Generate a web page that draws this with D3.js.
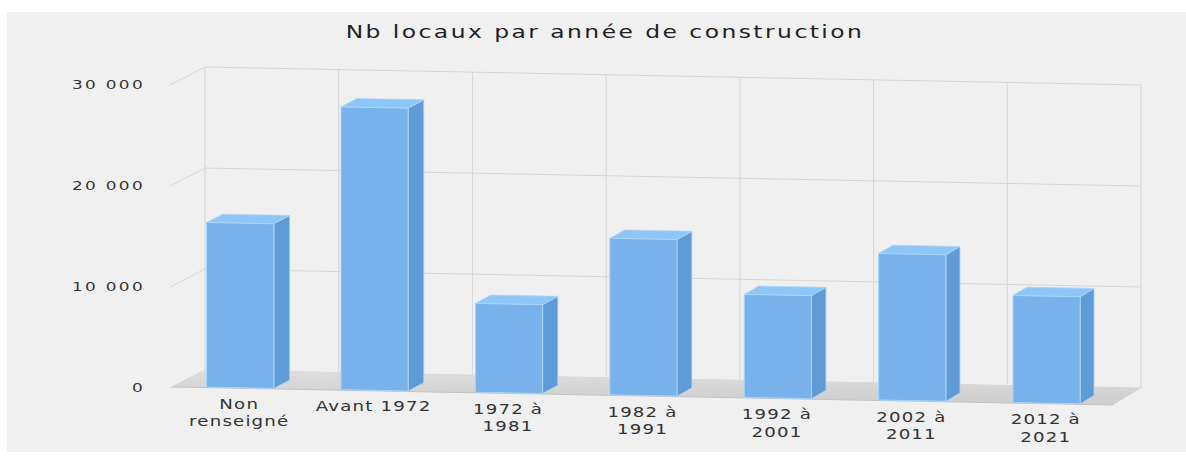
<!DOCTYPE html>
<html><head><meta charset="utf-8">
<script src="https://cdn.jsdelivr.net/npm/d3@7/dist/d3.min.js"></script>
<style>body{margin:0;background:#fff} svg{display:block}</style>
</head><body><svg id="c" width="1186" height="457"></svg>
<script>
const categories = ["Non renseigné","Avant 1972","1972 à 1981","1982 à 1991","1992 à 2001","2002 à 2011","2012 à 2021"];
const labelLines = [["Non","renseigné"],["Avant 1972"],["1972 à","1981"],["1982 à","1991"],["1992 à","2001"],["2002 à","2011"],["2012 à","2021"]];
const values = [16300, 28000, 8800, 15500, 10200, 14500, 10600];
const yTicks = [0, 10000, 20000, 30000];
const yTickLabels = ["0","10 000","20 000","30 000"];
const title = "Nb locaux par année de construction";

const svg = d3.select("#c");
const X0 = 172, Y0 = 387, W = 941, SHEAR = 18/941, H = 303, DY = -17;
const x = d3.scaleBand().domain(categories).range([0, W]).paddingInner(0.5).paddingOuter(0.25);
const y = d3.scaleLinear().domain([0, 30000]).range([0, H]);
const depthX = d3.scaleLinear().domain([0, W]).range([33, 28]);
function P(u, v, d){ return [X0 + u + d*depthX(u), Y0 + u*SHEAR - y(v) + d*DY]; }
const pts = a => a.map(p => p[0].toFixed(2)+","+p[1].toFixed(2)).join(" ");

const defs = svg.append("defs");
const fg = defs.append("linearGradient").attr("id","floorG").attr("x1",0).attr("y1",1).attr("x2",0).attr("y2",0);
fg.append("stop").attr("offset","0%").attr("stop-color","#cdcdcd");
fg.append("stop").attr("offset","100%").attr("stop-color","#dedede");

// panel
svg.append("rect").attr("x",7).attr("y",12).attr("width",1179).attr("height",440).attr("fill","#f0f0f0");

// title
svg.append("g").attr("transform","translate(605,38) scale(1.3,1)")
  .append("text").attr("text-anchor","middle")
  .attr("font-family","DejaVu Sans, sans-serif").attr("font-size",18)
  .attr("letter-spacing",1.9).attr("fill","#222").text(title);

const grid = svg.append("g").attr("stroke","#d6d6d6").attr("stroke-width",1).attr("fill","none");
// back wall horizontal gridlines
yTicks.forEach(t => {
  const a = P(0,t,1), b = P(W,t,1);
  grid.append("line").attr("x1",a[0]).attr("y1",a[1]).attr("x2",b[0]).attr("y2",b[1]);
  const f = P(0,t,0);
  grid.append("line").attr("x1",f[0]-2).attr("y1",f[1]+1).attr("x2",a[0]).attr("y2",a[1]);
});
// back wall vertical gridlines
d3.range(categories.length+1).forEach(i => {
  const u = i * x.step();
  const a = P(u,0,1), b = P(u,30000,1);
  grid.append("line").attr("x1",a[0]).attr("y1",a[1]).attr("x2",b[0]).attr("y2",b[1]);
});

// floor
svg.append("polygon")
  .attr("points", pts([P(0,0,0), P(W,0,0), P(W,0,1), P(0,0,1)]))
  .attr("fill","url(#floorG)");
const fa = P(0,0,0), fb = P(W,0,0);
svg.append("line").attr("x1",fa[0]).attr("y1",fa[1]).attr("x2",fb[0]).attr("y2",fb[1])
  .attr("stroke","#c4c4c4").attr("stroke-width",1);

// y tick labels
yTicks.forEach((t,i) => {
  const f = P(0,t,0);
  svg.append("g").attr("transform",`translate(${f[0]-27},${f[1]+4.5}) scale(1.3,1)`)
    .append("text").attr("text-anchor","end")
    .attr("font-family","DejaVu Sans, sans-serif").attr("font-size",13)
    .attr("letter-spacing",1.8).attr("fill","#333").text(yTickLabels[i]);
});

// bars
const d0 = 0.03, d1 = 0.52;
const bars = svg.append("g");
categories.forEach((c,i) => {
  const u0 = x(c), u1 = x(c) + x.bandwidth(), v = values[i];
  const g = bars.append("g");
  g.append("polygon").attr("points", pts([P(u1,0,d0),P(u1,0,d1),P(u1,v,d1),P(u1,v,d0)]))
    .attr("fill","#5f9bd6").attr("stroke","#a9d3fb").attr("stroke-width",0.8).attr("stroke-linejoin","round");
  g.append("polygon").attr("points", pts([P(u0,v,d0),P(u1,v,d0),P(u1,v,d1),P(u0,v,d1)]))
    .attr("fill","#8ec6f7").attr("stroke","#a9d3fb").attr("stroke-width",0.8).attr("stroke-linejoin","round");
  g.append("polygon").attr("points", pts([P(u0,0,d0),P(u1,0,d0),P(u1,v,d0),P(u0,v,d0)]))
    .attr("fill","#79b2ea").attr("stroke","#a9d3fb").attr("stroke-width",1).attr("stroke-linejoin","round");
});

// category labels
categories.forEach((c,i) => {
  const uc = x(c) + x.bandwidth()/2;
  const p = P(uc,0,0);
  labelLines[i].forEach((ln,j) => {
    svg.append("g").attr("transform",`translate(${p[0]},${p[1]+20.5+j*17.5}) scale(1.3,1)`)
      .append("text").attr("text-anchor","middle")
      .attr("font-family","DejaVu Sans, sans-serif").attr("font-size",14)
      .attr("letter-spacing",0.9).attr("fill","#333").text(ln);
  });
});
</script>
</body></html>
